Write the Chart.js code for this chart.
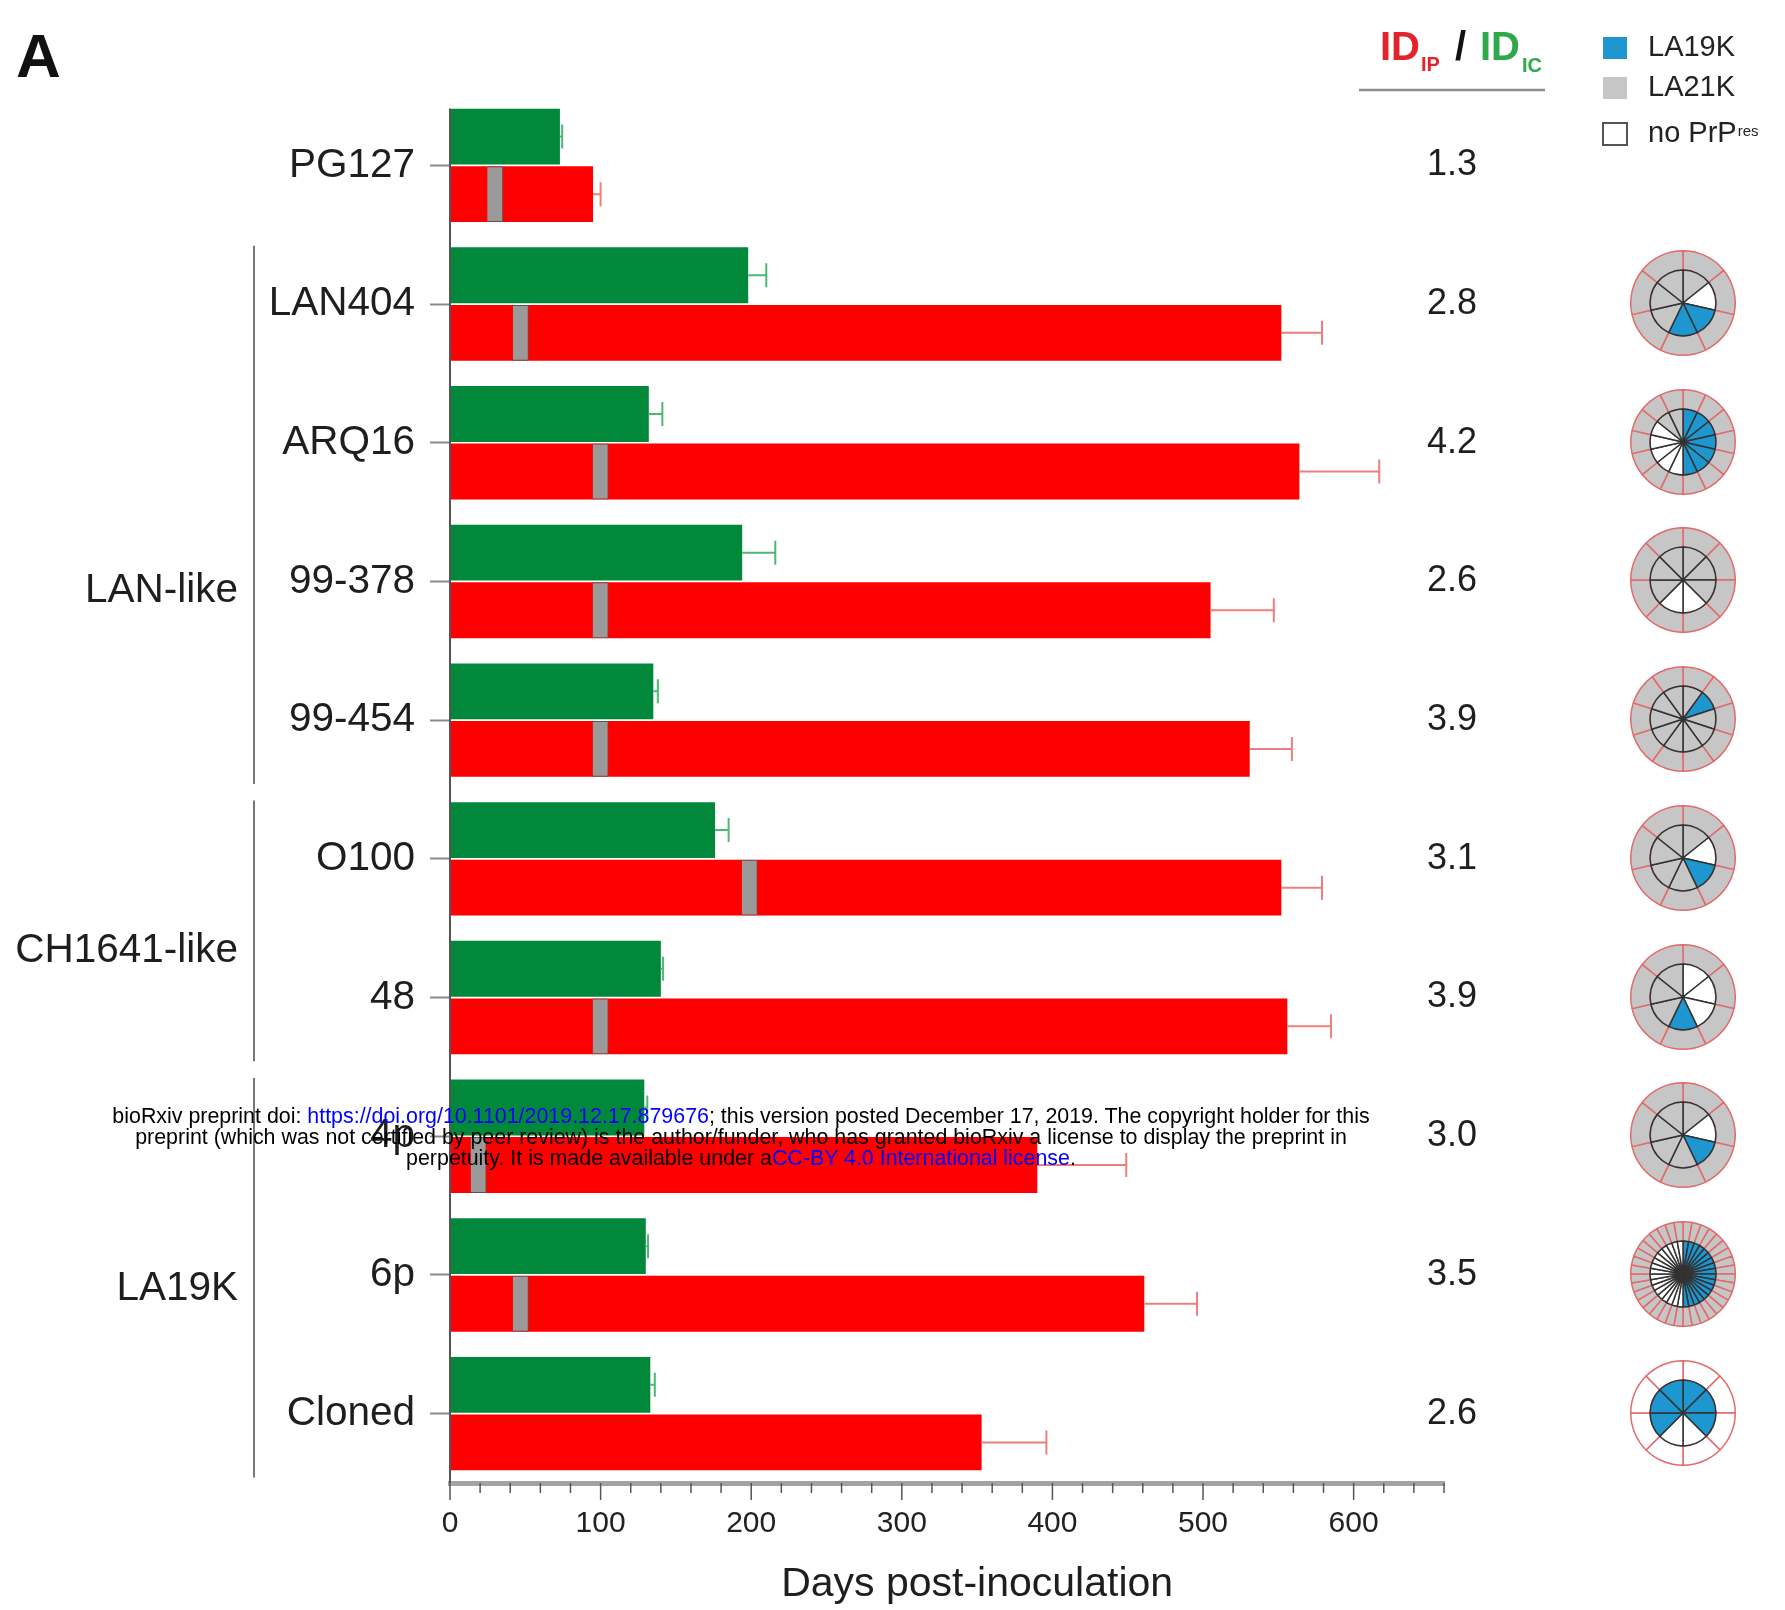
<!DOCTYPE html>
<html>
<head>
<meta charset="utf-8">
<script src="https://cdn.jsdelivr.net/npm/chart.js@4.4.1/dist/chart.umd.min.js"></script>
<style>
html, body { margin: 0; padding: 0; background: #fff; }
#wrap { position: relative; width: 1785px; height: 1610px; }
#main { position: absolute; left: 0; top: 0; }
.pie { position: absolute; width: 106px; height: 106px; }
#note { position: absolute; left: 0; top: 1106px; width: 1482px; text-align: center;
  font-family: 'Liberation Sans', Arial, sans-serif; font-size: 21.4px; line-height: 21px;
  color: #000; white-space: nowrap; }
#note span { color: #0000ff; }
</style>
</head>
<body>
<div id="wrap">
<canvas id="main" width="1785" height="1610"></canvas>
<div id="note">bioRxiv preprint doi: <span>https://doi.org/10.1101/2019.12.17.879676</span>; this version posted December 17, 2019. The copyright holder for this<br>preprint (which was not certified by peer review) is the author/funder, who has granted bioRxiv a license to display the preprint in<br>perpetuity. It is made available under a<span>CC-BY 4.0 International license</span>.</div>
</div>
<script>
// incubation periods (days post-inoculation), IC = intracerebral, IP = intraperitoneal
const isolates = ["PG127", "LAN404", "ARQ16", "99-378", "99-454", "O100", "48", "4p", "6p", "Cloned"];
const daysIC = [73, 198, 132, 194, 135, 176, 140, 129, 130, 133];
const sdIC = [1.5, 12, 9, 22, 3, 9, 1.5, 2, 1.5, 3];
const daysIP = [95, 552, 564, 505, 531, 552, 556, 390, 461, 353];
const sdIP = [5, 27, 53, 42, 28, 27, 29, 59, 35, 43];
const markIP = [30, 47, 100, 100, 100, 199, 100, 19, 47, null];
const ratios = [1.3, 2.8, 4.2, 2.6, 3.9, 3.1, 3.9, 3.0, 3.5, 2.6];
const xTickLabels = ["0", "100", "200", "300", "400", "500", "600"];

const groupNames = ["LAN-like", "CH1641-like", "LA19K"];
const groupFirst = [1, 5, 7];
const groupLast = [4, 6, 9];

// pie sectors clockwise from 12 o'clock: B = LA19K, G = LA21K, W = no PrPres
const pieInner = [
  "",
  "GWBBGGG",
  "BBBBBBBWWWWWGG",
  "GGGWWGGG",
  "GBGGGGGGGG",
  "GWBGGGG",
  "WWWBGGG",
  "GWBGGGG",
  "BBBBBBBBBBBBBBBBBBWWWWWWWWWWWWWWWWWW",
  "BBBWWBBB"
];
const pieRing = ["", "G", "G", "G", "G", "G", "G", "G", "G", "W"];

const pieColors = { B: "#1e96cf", G: "#c6c6c6", W: "#ffffff" };
const FONT = "'Liberation Sans', Arial, sans-serif";
Chart.defaults.font.family = FONT;
Chart.defaults.color = "#222";

const errorBars = {
  id: "errorBars",
  afterDatasetsDraw(chart) {
    const c = chart.ctx;
    const x = chart.scales.x;
    chart.data.datasets.forEach((ds, di) => {
      if (!ds.sd) return;
      chart.getDatasetMeta(di).data.forEach((bar, i) => {
        const end = x.getPixelForValue(ds.data[i] + ds.sd[i]);
        c.save();
        c.strokeStyle = ds.errColor;
        c.lineWidth = 2;
        c.beginPath();
        c.moveTo(bar.x, bar.y);
        c.lineTo(end, bar.y);
        c.moveTo(end, bar.y - 12);
        c.lineTo(end, bar.y + 12);
        c.stroke();
        c.restore();
      });
    });
  }
};

const groupLabelAt = [3.07, 5.66, 8.1];

const decorations = {
  id: "decorations",
  afterDraw(chart) {
    const c = chart.ctx;
    const x = chart.scales.x;
    const y = chart.scales.y;
    const area = chart.chartArea;
    c.save();

    // y axis line starts at the first bar
    c.strokeStyle = "#555";
    c.lineWidth = 2;
    c.beginPath();
    c.moveTo(area.left, y.getPixelForValue(-0.41));
    c.lineTo(area.left, area.bottom);
    c.stroke();

    // x tick marks, long on labelled ticks
    c.lineWidth = 1.5;
    x.ticks.forEach(t => {
      const px = x.getPixelForValue(t.value);
      const len = xTickLabels.includes(String(t.value)) ? 17 : 10;
      c.beginPath();
      c.moveTo(px, area.bottom);
      c.lineTo(px, area.bottom + len);
      c.stroke();
    });

    c.fillStyle = "#1e1e1e";
    c.textAlign = "center";
    c.textBaseline = "middle";
    c.font = "41px " + FONT;
    c.fillText("Days post-inoculation", x.getPixelForValue(350), 1585);

    // panel letter
    c.fillStyle = "#111";
    c.font = "bold 62px " + FONT;
    c.textAlign = "left";
    c.textBaseline = "alphabetic";
    c.fillText("A", 16, 77);

    // groups
    c.strokeStyle = "#777";
    c.lineWidth = 2;
    c.fillStyle = "#1e1e1e";
    c.font = "40.5px " + FONT;
    c.textAlign = "right";
    c.textBaseline = "middle";
    groupNames.forEach((g, k) => {
      c.beginPath();
      c.moveTo(254, y.getPixelForValue(groupFirst[k] - 0.42));
      c.lineTo(254, y.getPixelForValue(groupLast[k] + 0.46));
      c.stroke();
      c.fillText(g, 238, y.getPixelForValue(groupLabelAt[k]));
    });

    // ratio column
    c.textAlign = "center";
    c.font = "36px " + FONT;
    ratios.forEach((r, i) => {
      c.fillText(r.toFixed(1), 1452, y.getPixelForValue(i));
    });

    // header ID_IP / ID_IC
    c.textAlign = "left";
    c.textBaseline = "alphabetic";
    c.font = "bold 40px " + FONT;
    c.fillStyle = "#e4222a";
    c.fillText("ID", 1380, 60);
    c.font = "bold 20px " + FONT;
    c.fillText("IP", 1421, 71);
    c.font = "bold 40px " + FONT;
    c.fillStyle = "#111";
    c.fillText("/", 1455, 60);
    c.fillStyle = "#2da84a";
    c.fillText("ID", 1480, 60);
    c.font = "bold 20px " + FONT;
    c.fillText("IC", 1522, 72);
    c.strokeStyle = "#8c8c8c";
    c.lineWidth = 2.5;
    c.beginPath();
    c.moveTo(1359, 90);
    c.lineTo(1545, 90);
    c.stroke();

    // legend
    const legendNames = ["LA19K", "LA21K", "no PrP"];
    const legendKeys = ["B", "G", "W"];
    const legendTops = [37, 77, 123];
    c.font = "29px " + FONT;
    c.textBaseline = "middle";
    legendNames.forEach((n, k) => {
      c.fillStyle = pieColors[legendKeys[k]];
      c.fillRect(1603, legendTops[k], 24, 22);
      if (legendKeys[k] === "W") {
        c.strokeStyle = "#555";
        c.lineWidth = 2;
        c.strokeRect(1603, legendTops[k], 24, 22);
      }
      c.fillStyle = "#222";
      c.fillText(n, 1648, legendTops[k] + 11);
    });
    const w = c.measureText("no PrP").width;
    c.font = "15px " + FONT;
    c.textBaseline = "alphabetic";
    c.fillText("res", 1648 + w + 1, 136);

    c.restore();
  }
};

const mainChart = new Chart(document.getElementById("main"), {
  type: "bar",
  data: {
    labels: isolates,
    datasets: [
      { label: "IC", data: daysIC, sd: sdIC, errColor: "#4db873", backgroundColor: "#02883a", stack: "ic", order: -2 },
      { label: "IP", data: daysIP, sd: sdIP, errColor: "#ef7d7d", backgroundColor: "#ff0000", stack: "ip", order: 0 },
      { label: "marker", data: markIP.map(m => m === null ? null : [m - 5.3, m + 5.3]),
        backgroundColor: "#9a9a9a", borderColor: "#555", borderWidth: 1, stack: "ip", order: -1 }
    ]
  },
  options: {
    indexAxis: "y",
    responsive: false,
    animation: false,
    categoryPercentage: 0.83,
    barPercentage: 0.97,
    layout: { padding: { top: 96, right: 341, left: 0, bottom: 0 } },
    plugins: { legend: { display: false }, tooltip: { enabled: false } },
    scales: {
      x: {
        min: 0,
        max: 660,
        stacked: false,
        grid: { drawOnChartArea: false, tickLength: 17, tickColor: "rgba(0,0,0,0)" },
        border: { color: "#a3a3a3", width: 5 },
        ticks: {
          stepSize: 20,
          autoSkip: false,
          maxRotation: 0,
          padding: 6,
          font: { size: 30 },
          color: "#222",
          callback: v => xTickLabels.includes(String(v)) ? String(v) : ""
        },
        afterFit(s) { s.height = 127; }
      },
      y: {
        offset: true,
        grid: { drawOnChartArea: false, offset: false, tickLength: 20, tickColor: "#8a8a8a", tickWidth: 2 },
        border: { display: false },
        ticks: { font: { size: 40.5 }, color: "#1e1e1e", padding: 15 },
        afterFit(s) { s.width = 450; }
      }
    }
  },
  plugins: [errorBars, decorations]
});

// PrPres typing pies, one per isolate row
const yScale = mainChart.scales.y;
isolates.forEach((name, i) => {
  if (!pieInner[i]) return;
  const cv = document.createElement("canvas");
  cv.width = 106;
  cv.height = 106;
  cv.className = "pie";
  cv.style.left = (1683 - 53) + "px";
  cv.style.top = (yScale.getPixelForValue(i) - 54) + "px";
  document.getElementById("wrap").appendChild(cv);
  const sectors = pieInner[i].split("");
  new Chart(cv, {
    type: "doughnut",
    data: {
      labels: sectors.map((s, k) => name + " " + (k + 1)),
      datasets: [
        { data: sectors.map(() => 1), backgroundColor: pieColors[pieRing[i]], borderColor: "#e26a6a", borderWidth: 1.5, weight: 1 },
        { data: sectors.map(() => 1), backgroundColor: sectors.map(s => pieColors[s]), borderColor: "#333", borderWidth: 1.5, weight: 1.7, order: -1 }
      ]
    },
    options: {
      responsive: false,
      animation: false,
      cutout: 0,
      layout: { padding: 0 },
      plugins: { legend: { display: false }, tooltip: { enabled: false } }
    }
  });
});
</script>
</body>
</html>
